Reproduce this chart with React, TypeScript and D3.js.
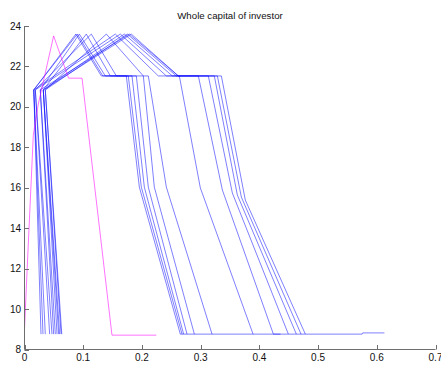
import React from "react";
import * as d3 from "d3";

const W = 441;
const H = 365;

const title = "Whole capital of investor";
const xTicks = [0, 0.1, 0.2, 0.3, 0.4, 0.5, 0.6, 0.7];
const yTicks = [8, 10, 12, 14, 16, 18, 20, 22, 24];

// Capital levels shared by the investor paths
const floorLevel = 8.76;
const takeoffLevel = 20.84;
const peakLevel = 23.6;
const plateauLevel = 21.53;

// One entry per simulated investor path (blue)
const startX = [0.0281, 0.0315, 0.0496, 0.0554, 0.0428, 0.0622, 0.0354, 0.0468, 0.0581, 0.0635, 0.0525, 0.0598];
const takeoffX = [0.0158, 0.0158, 0.0269, 0.032, 0.0184, 0.0354, 0.0158, 0.0184, 0.032, 0.0354, 0.0269, 0.032];
const peakX = [0.0874, 0.0899, 0.0934, 0.1053, 0.1138, 0.1394, 0.1547, 0.1632, 0.17, 0.1751, 0.1785, 0.1819];
const plateauStartX = [0.1308, 0.1334, 0.1376, 0.1462, 0.1564, 0.2024, 0.2279, 0.2416, 0.2518, 0.2586, 0.262, 0.262];
const plateauEndX = [0.1734, 0.1768, 0.1831, 0.1905, 0.2024, 0.2109, 0.2637, 0.2961, 0.3131, 0.3233, 0.3285, 0.3353];
const kinkX = [0.1956, 0.199, 0.2041, 0.2109, 0.2211, 0.2416, 0.2995, 0.337, 0.354, 0.3625, 0.3693, 0.3761];
const kinkY = [16.03, 16.03, 16.03, 16.03, 16.03, 16.03, 15.99, 15.89, 15.74, 15.64, 15.54, 15.39];
const floorX = [0.2654, 0.2683, 0.271, 0.2768, 0.2893, 0.3194, 0.3893, 0.4239, 0.4494, 0.463, 0.471, 0.4783];

// Trailing points along the floor for a couple of paths
const tailFirst: [number, number][] = [[0.575, 8.76], [0.576, 8.82], [0.613, 8.82]];
const tailEighth: [number, number][] = [[0.436, 8.76]];

// Reference path (magenta)
const refX = [0, 0.0043, 0.015, 0.0235, 0.0496, 0.0751, 0.098, 0.149, 0.2245];
const refY = [9.0, 11.84, 18.6, 20.14, 23.51, 21.42, 21.42, 8.71, 8.71];

const margin = { left: 24.5, right: 435.5, top: 26, bottom: 349.5 };

export default function App() {
  const x = d3.scaleLinear().domain([0, 0.7]).range([margin.left, margin.right]);
  const y = d3.scaleLinear().domain([8, 24]).range([margin.bottom, margin.top]);
  const line = d3
    .line<[number, number]>()
    .x((d) => x(d[0]))
    .y((d) => y(d[1]));

  const paths: [number, number][][] = startX.map((s, i) => {
    const pts: [number, number][] = [
      [s, floorLevel],
      [takeoffX[i], takeoffLevel],
      [peakX[i], peakLevel],
      [plateauStartX[i], plateauLevel],
      [plateauEndX[i], plateauLevel],
      [kinkX[i], kinkY[i]],
      [floorX[i], floorLevel],
    ];
    if (i === 0) pts.push(...tailFirst);
    if (i === 7) pts.push(...tailEighth);
    return pts;
  });

  const refPath: [number, number][] = refX.map((v, i) => [v, refY[i]]);

  const font = "Arial, 'Liberation Sans', Helvetica, sans-serif";
  const axisColor = "#6e6e6e";

  return (
    <svg
      width={W}
      height={H}
      viewBox={`0 0 ${W} ${H}`}
      style={{ position: "absolute", left: 0, top: 0, background: "#fff" }}
    >
      <rect width={W} height={H} fill="#fff" />
      <text
        x={(margin.left + margin.right) / 2}
        y={18.5}
        textAnchor="middle"
        fontFamily={font}
        fontSize={9.7}
        fill="#111"
      >
        {title}
      </text>

      <g fill="none" strokeWidth={1} strokeLinejoin="miter">
        {paths.map((p, i) => (
          <path key={i} d={line(p) ?? ""} stroke="#0000ff" strokeOpacity={0.5} />
        ))}
        <path d={line(refPath) ?? ""} stroke="#ff00ff" strokeOpacity={0.55} />
      </g>

      {/* axes */}
      <line x1={margin.left} x2={margin.left} y1={margin.top} y2={margin.bottom} stroke={axisColor} />
      <line x1={margin.left} x2={margin.right} y1={margin.bottom} y2={margin.bottom} stroke={axisColor} />
      {yTicks.map((t) => (
        <g key={t}>
          <line
            x1={margin.left}
            x2={margin.left + 4.5}
            y1={Math.round(y(t)) + 0.5}
            y2={Math.round(y(t)) + 0.5}
            stroke={axisColor}
          />
          <text
            x={margin.left - 3.5}
            y={y(t) + 3.5}
            textAnchor="end"
            fontFamily={font}
            fontSize={10}
            fill="#111"
          >
            {t}
          </text>
        </g>
      ))}
      {xTicks.map((t) => (
        <g key={t}>
          <line
            x1={Math.round(x(t)) + 0.5}
            x2={Math.round(x(t)) + 0.5}
            y1={margin.bottom}
            y2={margin.bottom - 4.5}
            stroke={axisColor}
          />
          <text
            x={x(t)}
            y={361}
            textAnchor="middle"
            fontFamily={font}
            fontSize={10}
            fill="#111"
          >
            {t}
          </text>
        </g>
      ))}
    </svg>
  );
}
